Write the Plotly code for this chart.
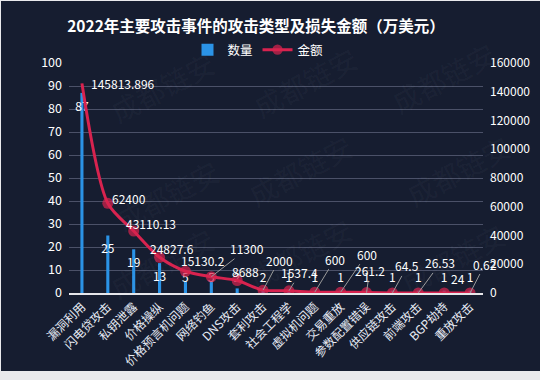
import plotly.graph_objects as go

# ---------------- data ----------------
categories = ["漏洞利用", "闪电贷攻击", "私钥泄露", "价格操纵", "价格预言机问题", "网络钓鱼",
              "DNS攻击", "套利攻击", "社会工程学", "虚拟机问题", "交易重放", "参数配置错误",
              "供应链攻击", "前端攻击", "BGP劫持", "重放攻击"]
counts = [87, 25, 19, 13, 5, 5, 2, 2, 1, 1, 1, 1, 1, 1, 1, 1]
amounts = [145813.896, 62400, 43110.13, 24827.6, 15130.2, 11300, 8688, 2000, 1537.4,
           600, 600, 261.2, 64.5, 26.53, 24, 0.62]

# ---------------- style / layout helpers ----------------
BG = "#161d30"
FONT = "Noto Sans CJK SC"
L, R, T, B = 69, 483, 63, 293  # plot area in pixels
W, H = R - L, B - T


def px2paper(px, py):
    return (px - L) / W, (B - py) / H


def fmt(v):
    return str(int(v)) if float(v) == int(v) else str(v)


# label offsets (pixels, dx right, dy down) and whether a leader line is drawn
label_offsets = [(41, 0, False), (21, -5, False), (17, -8, False), (12, -9, False),
                 (18, -11, False), (36, -28, True), (8, -9, False), (16, -30, True),
                 (11, -18, True), (20, -33, True), (26, -38, True), (3, -22, True),
                 (15, -27, True), (22, -30, True), (14, -14, False), (15, -29, True)]

fig = go.Figure()

fig.add_trace(go.Bar(
    x=categories, y=counts, name="数量", yaxis="y",
    width=0.12, marker=dict(color="#2b93e6", line=dict(width=0)),
    hoverinfo="skip",
))

# bar value labels (inside top of the bar, kept above the axis)
bar_label_y = [max(c - 6.5, 6.1) for c in counts]
fig.add_trace(go.Scatter(
    x=categories, y=bar_label_y, mode="text", text=[str(c) for c in counts],
    textposition="middle center", textfont=dict(color="#ffffff", size=12, family=FONT),
    showlegend=False, hoverinfo="skip", yaxis="y",
))

fig.add_trace(go.Scatter(
    x=categories, y=amounts, name="金额", yaxis="y2", mode="lines+markers",
    line=dict(color="#d8234f", width=3, shape="spline", smoothing=0.8),
    marker=dict(color="#d8234f", size=[0] + [11] * (len(amounts) - 1),
                line=dict(width=0)),
    hoverinfo="skip",
))

annotations = []
for cat, amt, (dx, dy, arrow) in zip(categories, amounts, label_offsets):
    if arrow:
        annotations.append(dict(
            x=cat, y=amt, xref="x", yref="y2", text=fmt(amt), showarrow=True,
            ax=dx, ay=dy, axref="pixel", ayref="pixel", arrowhead=0, arrowwidth=1,
            arrowcolor="#9a9a9a", standoff=0, startstandoff=0,
            font=dict(color="#ffffff", size=12, family=FONT),
        ))
    else:
        annotations.append(dict(
            x=cat, y=amt, xref="x", yref="y2", text=fmt(amt), showarrow=False,
            xshift=dx, yshift=-dy, font=dict(color="#ffffff", size=12, family=FONT),
        ))

# watermark
for (wx, wy) in [(100, 40), (305, 35), (505, 30), (105, 195), (300, 170), (520, 170),
                 (100, 310), (300, 300), (515, 305)]:
    xp, yp = px2paper(wx, wy)
    annotations.append(dict(
        x=xp, y=yp, xref="paper", yref="paper", text="成都链安", showarrow=False,
        textangle=-28, font=dict(size=28, color="rgba(200,210,235,0.05)", family=FONT),
    ))

# light frame around the chart (page border)
x0, y0 = px2paper(1, 371)
x1, y1 = px2paper(540, 1)
shapes = [dict(type="rect", xref="paper", yref="paper", x0=x0, x1=x1, y0=y0, y1=y1,
               fillcolor=BG, line=dict(width=0), layer="below")]

fig.update_layout(
    width=540, height=380,
    margin=dict(l=L, r=540 - R, t=T, b=380 - B, autoexpand=False),
    paper_bgcolor="#e9e9ec", plot_bgcolor="rgba(0,0,0,0)",
    font=dict(family=FONT, color="#ffffff", size=12),
    title=dict(text="<b>2022年主要攻击事件的攻击类型及损失金额（万美元）</b>",
               x=256 / 540, xanchor="center", y=1 - 27 / 380, yanchor="middle",
               font=dict(size=15.5, color="#ffffff", family=FONT)),
    legend=dict(orientation="h", xref="container", yref="container",
                x=258 / 540, xanchor="center", y=1 - 50 / 380, yanchor="middle",
                font=dict(size=12.5, color="#ffffff", family=FONT),
                bgcolor="rgba(0,0,0,0)", itemwidth=30),
    bargap=0.5,
    xaxis=dict(type="category", tickangle=-45, showgrid=False, showline=True,
               linecolor="#e6e6ea", linewidth=2, ticks="", zeroline=False,
               automargin=False,
               tickfont=dict(size=12, color="#e6ebf5", family=FONT),
               range=[-0.5, len(categories) - 0.5]),
    yaxis=dict(range=[0, 100], dtick=10, showgrid=True, gridcolor="#4b5168",
               gridwidth=1, zeroline=False, showline=False, ticks="",
               ticklabelstandoff=6, automargin=False,
               tickfont=dict(size=12.5, color="#ffffff", family=FONT)),
    yaxis2=dict(range=[0, 160000], dtick=20000, overlaying="y", side="right",
                showgrid=False, zeroline=False, showline=False, ticks="",
                ticklabelstandoff=6, automargin=False, tickformat="d",
                tickfont=dict(size=12, color="#ffffff", family=FONT)),
    annotations=annotations,
    shapes=shapes,
)

fig.write_html(
    "out.html",
    config={"displayModeBar": False},
    post_script="document.body.style.margin='0';document.body.style.overflow='hidden';",
)
